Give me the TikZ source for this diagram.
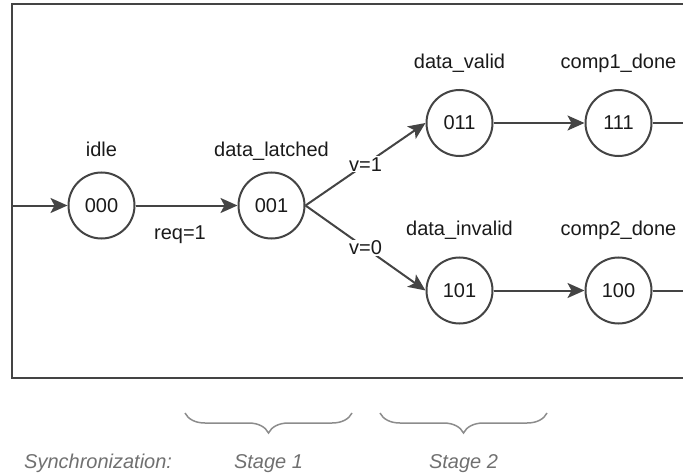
\documentclass[tikz,border=0pt]{standalone}
\usepackage{fontspec}
\setmainfont{Liberation Sans}
\usetikzlibrary{arrows.meta,decorations.pathreplacing}
\definecolor{ink}{HTML}{444444}
\definecolor{txt}{HTML}{1A1A1A}
\definecolor{note}{HTML}{707070}
\definecolor{bracec}{HTML}{8C8C8C}
\begin{document}
\begin{tikzpicture}[x=1pt,y=-1pt,
  lbl/.style={font=\fontsize{20}{24}\selectfont},
  state/.style={lbl, circle, draw=ink, line width=2pt, minimum size=66pt,
    inner sep=0pt, text=txt},
  title/.style={lbl, anchor=base, text=txt, inner sep=0pt},
  plain/.style={draw=ink, line width=2pt},
  edge/.style={plain, -{Stealth[length=17pt,width=15pt,inset=4pt]}},
  cond/.style={lbl, fill=white, inner sep=1pt, text=txt},
  stagebrace/.style={draw=bracec, line width=1.5pt, decorate,
    decoration={brace, mirror, amplitude=20pt}},
  caption/.style={lbl, text=note, inner sep=0pt, font=\fontsize{20}{24}\selectfont\itshape}]

\useasboundingbox (0,0) rectangle (683,476);
\clip (0,0) rectangle (683,476);

% enclosing frame, open on the right
\draw[plain] (700,4) -- (12,4) -- (12,378) -- (700,378);

% states
\node[state] (s000) at (101.5,205.5) {000};
\node[state] (s001) at (271.5,205.5) {001};
\node[state] (s011) at (459.5,123) {011};
\node[state] (s111) at (618.5,123) {111};
\node[state] (s101) at (459.5,290.5) {101};
\node[state] (s100) at (618.5,290.5) {100};

% state names
\node[title] (n000) at (101.5,157) {idle};
\node[title] (n001) at (271.5,157) {data\_latched};
\node[title] (n011) at (459.5,68.5) {data\_valid};
\node[title] (n111) at (618.5,68.5) {comp1\_done};
\node[title] (n101) at (459.5,235) {data\_invalid};
\node[title] (n100) at (618.5,235) {comp2\_done};

% free ends of the connectors
\coordinate (entry) at (12,205.5);
\coordinate (exit1) at (700,123);
\coordinate (exit2) at (700,290.5);

% transitions
\draw[edge] (entry) -- (s000);
\draw[edge] (s000.east) -- (s001.west);
\node[title] (req) at (180,239.5) {req=1};
\draw[edge] (s001.east) -- node[cond] (v1) {v=1} (s011.west);
\draw[edge] (s001.east) -- node[cond] (v0) {v=0} (s101.west);
\draw[edge] (s011) -- (s111);
\draw[edge] (s101) -- (s100);
\draw[plain] (s111) -- (exit1);
\draw[plain] (s100) -- (exit2);

% pipeline stages
\draw[stagebrace] (185,413) -- (352,413);
\draw[stagebrace] (380,413) -- (547,413);
\node[caption, anchor=base west] (sync) at (24,468.5) {Synchronization:};
\node[caption, anchor=base] (st1) at (268.5,468.5) {Stage 1};
\node[caption, anchor=base] (st2) at (463.5,468.5) {Stage 2};
\end{tikzpicture}
\end{document}
